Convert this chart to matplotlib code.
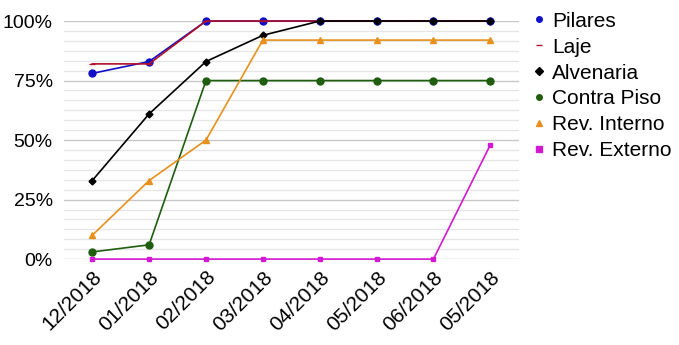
import matplotlib.pyplot as plt
from matplotlib.ticker import MultipleLocator, FuncFormatter

plt.rcParams['font.family'] = ['Liberation Sans', 'DejaVu Sans']

# meses do cronograma
meses = ["12/2018", "01/2018", "02/2018", "03/2018", "04/2018", "05/2018", "06/2018", "05/2018"]

# percentual concluído de cada serviço
pilares = [78, 83, 100, 100, 100, 100, 100, 100]
laje = [82, 82, 100, 100, 100, 100, 100, 100]
alvenaria = [33, 61, 83, 94, 100, 100, 100, 100]
contra_piso = [3, 6, 75, 75, 75, 75, 75, 75]
rev_interno = [10, 33, 50, 92, 92, 92, 92, 92]
rev_externo = [0, 0, 0, 0, 0, 0, 0, 48]

series = [
    ("Pilares", pilares, "#1010c8", "o", 5),
    ("Laje", laje, "#b0102a", "_", 5),
    ("Alvenaria", alvenaria, "#000000", "D", 3.5),
    ("Contra Piso", contra_piso, "#1e5e0e", "o", 5),
    ("Rev. Interno", rev_interno, "#e8901c", "^", 4.5),
    ("Rev. Externo", rev_externo, "#d21ad2", "s", 3.5),
]

fig = plt.figure(figsize=(6.79, 3.45), dpi=100)
ax = fig.add_axes([0.094, 0.249, 0.670, 0.690])

x = list(range(len(meses)))
for nome, valores, cor, marcador, tam in series:
    ax.plot(x, valores, color=cor, marker=marcador, markersize=tam, linewidth=1.2,
            label=nome, clip_on=False, zorder=3)

ax.set_xlim(-0.5, len(meses) - 0.5)
ax.set_ylim(0, 100)
ax.yaxis.set_major_locator(MultipleLocator(25))
ax.yaxis.set_minor_locator(MultipleLocator(25 / 6))
ax.yaxis.set_major_formatter(FuncFormatter(lambda v, p: f"{v:.0f}%"))
ax.grid(axis="y", which="major", color="#c8c8c8", linewidth=1)
ax.grid(axis="y", which="minor", color="#e6e6e6", linewidth=1)
ax.set_axisbelow(True)
for s in ax.spines.values():
    s.set_visible(False)
ax.tick_params(axis="both", which="both", length=0)
ax.tick_params(axis="y", pad=8, labelsize=14)
ax.tick_params(axis="x", pad=6, labelsize=15)
ax.set_xticks(x)
ax.set_xticklabels(meses, rotation=45, ha="right", rotation_mode="anchor")

handles = [plt.Line2D([], [], color=c, marker=m, linestyle="", markersize=4)
           for _, _, c, m, _ in series]
fig.legend(handles, [s[0] for s in series], loc="upper left",
           bbox_to_anchor=(0.776, 0.99), frameon=False, fontsize=15,
           handlelength=0.4, handletextpad=0.4, labelspacing=0.33,
           borderaxespad=0)

fig.savefig("out.png", dpi=100)
